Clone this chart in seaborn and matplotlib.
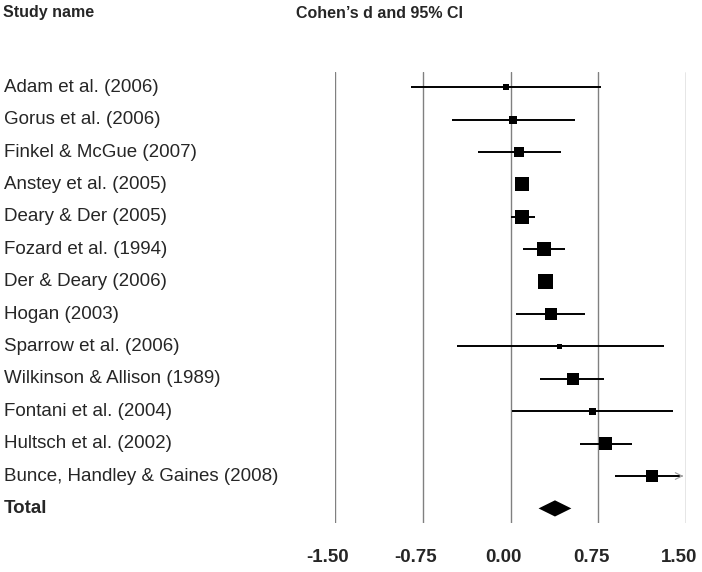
import matplotlib
matplotlib.use("Agg")
import matplotlib.pyplot as plt
import matplotlib.transforms as mtransforms
import seaborn as sns
import pandas as pd
import numpy as np

studies = ["Adam et al. (2006)", "Gorus et al. (2006)", "Finkel & McGue (2007)",
           "Anstey et al. (2005)", "Deary & Der (2005)", "Fozard et al. (1994)",
           "Der & Deary (2006)", "Hogan (2003)", "Sparrow et al. (2006)",
           "Wilkinson & Allison (1989)", "Fontani et al. (2004)", "Hultsch et al. (2002)",
           "Bunce, Handley & Gaines (2008)"]
d_values = [-0.04, 0.02, 0.07, 0.10, 0.10, 0.29, 0.30, 0.35, 0.42, 0.53, 0.70, 0.81, 1.21]
ci_lower = [-0.85, -0.50, -0.28, 0.05, 0.005, 0.11, 0.26, 0.05, -0.455, 0.25, 0.01, 0.59, 0.89]
ci_upper = [0.77, 0.55, 0.43, 0.15, 0.21, 0.47, 0.34, 0.64, 1.31, 0.80, 1.39, 1.04, 1.65]
weights = [6, 8, 10, 14, 14, 14, 15, 12, 5, 12, 7, 13, 12]
total_label = "Total"
total_d = 0.38
total_lower = 0.24
total_upper = 0.52
tick_values = [-1.50, -0.75, 0.00, 0.75, 1.50]
tick_labels = ["-1.50", "-0.75", "0.00", "0.75", "1.50"]

sns.set_theme(style="white")
plt.rcParams['font.family'] = ['Liberation Sans', 'DejaVu Sans']

df = pd.DataFrame({"study": studies, "d": d_values, "lo": ci_lower, "hi": ci_upper,
                   "w": weights})
df["row"] = np.arange(len(df))
df["size"] = (df["w"] * 0.72) ** 2

fig = plt.figure(figsize=(7.02, 5.72), dpi=100)
ax = fig.add_axes([335/702, 1-523/572, (686-335)/702, (523-72)/572])
xmin, xmax = -1.5, 1.5
ax.set_xlim(xmin, xmax)
ax.set_ylim(13.45, -0.47)

for t in tick_values:
    ax.axvline(t, color="#808080", lw=1.0, zorder=0)

for _, r in df.iterrows():
    hi = min(r["hi"], xmax)
    lo = max(r["lo"], xmin)
    if r["hi"] > xmax:
        hi = xmax - 0.05
    ax.hlines(r["row"], lo, hi, color="black", lw=1.4, zorder=2)
    if r["hi"] > xmax:
        ax.annotate("", xy=(xmax, r["row"]), xytext=(xmax - 0.06, r["row"]),
                    arrowprops=dict(arrowstyle="->", color="#999999", lw=0.8,
                                    mutation_scale=12), zorder=3)

sns.scatterplot(data=df, x="d", y="row", size="size",
                sizes=(df["size"].min(), df["size"].max()),
                size_norm=(df["size"].min(), df["size"].max()),
                marker="s", color="black", edgecolor="black", linewidth=0,
                legend=False, ax=ax, zorder=4)

ty = len(studies)
ax.fill([total_lower, total_d, total_upper, total_d],
        [ty, ty - 0.25, ty, ty + 0.25], color="black", zorder=4, lw=0)

ax.set_xticks(tick_values)
ax.set_xticklabels(tick_labels, fontsize=13.5, fontweight="bold")
ax.tick_params(axis="x", length=0, pad=19)
shift = mtransforms.ScaledTranslation(-7/100, 0, fig.dpi_scale_trans)
for lab in ax.get_xticklabels():
    lab.set_transform(lab.get_transform() + shift)
ax.set_yticks([])
ax.set_xlabel("")
ax.set_ylabel("")
for s in ax.spines.values():
    s.set_visible(False)

blend = mtransforms.blended_transform_factory(fig.transFigure, ax.transData)
for _, r in df.iterrows():
    ax.text(4/702, r["row"], r["study"], transform=blend,
            ha="left", va="center", fontsize=13.5)
ax.text(4/702, ty, total_label, transform=blend,
        ha="left", va="center", fontsize=13.5, fontweight="bold")

fig.text(3/702, 1-13/572, "Study name", ha="left", va="center", fontsize=11.5,
         fontweight="bold")
fig.text(380/702, 1-13/572, "Cohen\u2019s d and 95% CI", ha="center", va="center",
         fontsize=11.5, fontweight="bold")

fig.savefig("out.png", dpi=100, facecolor="white")
